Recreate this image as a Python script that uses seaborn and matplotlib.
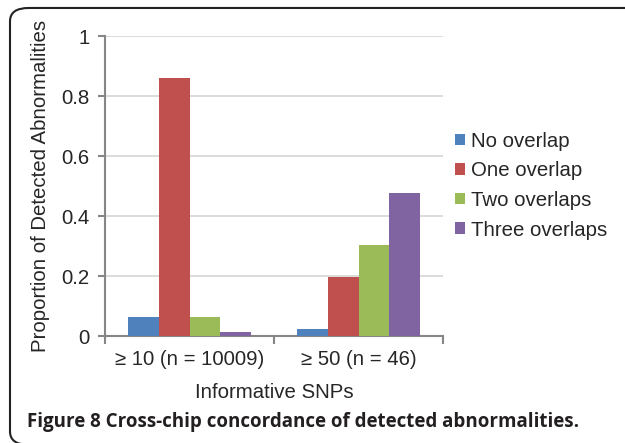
import pandas as pd
import seaborn as sns
import matplotlib.pyplot as plt
from matplotlib.patches import FancyBboxPatch, Patch
from matplotlib.ticker import FuncFormatter

# Dados
groups = ['\u2265 10 (n = 10009)', '\u2265 50 (n = 46)']
series = ['No overlap', 'One overlap', 'Two overlaps', 'Three overlaps']
no_overlap = [0.062, 0.022]
one_overlap = [0.860, 0.196]
two_overlaps = [0.062, 0.304]
three_overlaps = [0.015, 0.477]
colors = ['#4F81BD', '#C0504D', '#9BBB59', '#8064A2']

caption = 'Figure 8 Cross-chip concordance of detected abnormalities.'


def build_frame():
    rows = []
    for name, vals in zip(series, [no_overlap, one_overlap, two_overlaps, three_overlaps]):
        for g, v in zip(groups, vals):
            rows.append({'group': g, 'series': name, 'value': v})
    return pd.DataFrame(rows)


def main():
    data = build_frame()
    sns.set_style('white')
    plt.rcParams['font.family'] = 'sans-serif'
    plt.rcParams['font.sans-serif'] = ['Liberation Sans', 'Arial', 'DejaVu Sans']

    fs = 14.7
    fig = plt.figure(figsize=(6.25, 4.43), dpi=100)
    ax = fig.add_axes([0.168, 0.2415, 0.541, 0.677])

    sns.barplot(data=data, x='group', y='value', hue='series', hue_order=series,
                palette=colors, width=0.73, saturation=1, ax=ax, legend=False,
                edgecolor='none', zorder=3)

    ax.set_ylim(0, 1)
    ax.set_xlim(-0.5, 1.5)
    ax.set_yticks([0, 0.2, 0.4, 0.6, 0.8, 1.0])
    ax.yaxis.set_major_formatter(FuncFormatter(lambda v, p: f'{v:g}'))
    ax.grid(axis='y', color='#d9d9d9', lw=1.3, zorder=0)
    ax.set_axisbelow(True)

    # marcas do eixo x nas fronteiras das categorias
    ax.set_xticks([-0.5, 0.5, 1.5])
    ax.set_xticklabels([])
    ax.set_xticks([0, 1], minor=True)
    ax.set_xticklabels(groups, minor=True, fontsize=fs)
    ax.tick_params(axis='x', which='major', direction='out', length=6, width=1.5,
                   color='#868686', bottom=True)
    ax.tick_params(axis='x', which='minor', length=0, pad=10)
    ax.tick_params(axis='y', direction='out', length=5, width=1.5, color='#868686',
                   left=True, labelsize=fs, pad=6)

    for s in ['top', 'right']:
        ax.spines[s].set_visible(False)
    for s in ['left', 'bottom']:
        ax.spines[s].set_color('#868686')
        ax.spines[s].set_linewidth(1.5)

    ax.set_xlabel('Informative SNPs', fontsize=fs, labelpad=10)
    ax.set_ylabel('Proportion of Detected Abnormalities', fontsize=fs, labelpad=8)

    handles = [Patch(facecolor=c, edgecolor='none') for c in colors]
    fig.legend(handles, series, loc='center left', bbox_to_anchor=(0.705, 0.581),
               frameon=False, fontsize=fs, handlelength=0.5, handleheight=0.5,
               handletextpad=0.3, labelspacing=0.52, borderpad=0.2)

    # moldura arredondada (sai da imagem à direita)
    frame = FancyBboxPatch((0.016, -0.004), 1.05, 0.986,
                           boxstyle='round,pad=0,rounding_size=0.03',
                           transform=fig.transFigure, fill=False,
                           edgecolor='#222222', lw=1.5)
    fig.patches.append(frame)

    fig.text(0.043, 0.048, caption, fontsize=13.5, fontweight='bold',
             family=['Open Sans', 'DejaVu Sans'], color='#231f20', va='center')

    fig.savefig('out.png', dpi=100)


if __name__ == "__main__":
    main()
